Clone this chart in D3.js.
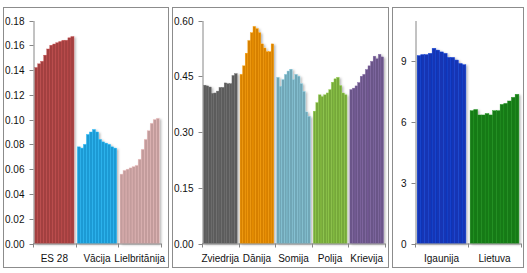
<!DOCTYPE html>
<html>
<head>
<meta charset="utf-8">
<script src="https://cdn.jsdelivr.net/npm/d3@7/dist/d3.min.js"></script>
<style>
  body{margin:0;background:#fff;}
  svg text{font-family:"Liberation Sans",Arial,sans-serif;font-size:10px;fill:#111;}
</style>
</head>
<body>
<svg id="chart" width="527" height="273"></svg>
<script>
// vertības katram gadam (13 gadi) katrai valstij
var es28 = [0.142,0.145,0.147,0.152,0.157,0.160,0.161,0.162,0.163,0.164,0.164,0.166,0.167];
var vacija = [0.078,0.077,0.080,0.088,0.090,0.092,0.090,0.084,0.082,0.081,0.080,0.078,0.077];
var lielbritanija = [0.056,0.059,0.060,0.061,0.062,0.063,0.068,0.076,0.084,0.091,0.097,0.100,0.101];

var zviedrija = [0.426,0.424,0.421,0.404,0.405,0.410,0.420,0.420,0.432,0.430,0.430,0.452,0.457];
var danija = [0.455,0.478,0.512,0.546,0.567,0.584,0.578,0.567,0.537,0.526,0.516,0.516,0.537];
var somija = [0.447,0.423,0.441,0.455,0.464,0.469,0.441,0.455,0.450,0.430,0.409,0.354,0.342];
var polija = [0.356,0.379,0.400,0.395,0.400,0.405,0.414,0.434,0.443,0.447,0.425,0.405,0.400];
var krievija = [0.414,0.418,0.424,0.433,0.450,0.455,0.468,0.478,0.490,0.504,0.497,0.509,0.502];

var igaunija = [9.27,9.32,9.32,9.38,9.63,9.54,9.45,9.38,9.18,9.18,9.05,8.88,8.82];
var lietuva = [6.55,6.61,6.34,6.34,6.41,6.34,6.55,6.55,6.86,6.91,7.03,7.21,7.36];

var yTicks1 = [0,0.02,0.04,0.06,0.08,0.10,0.12,0.14,0.16,0.18];
var yTicks2 = [0,0.15,0.30,0.45,0.60];
var yTicks3 = [0,3,6,9];

/* paneļu konfigurācija (trešajā panelī ass turpinās līdz 11) */
var paneli = [
  {box:[3.5,7.5,165,260], x0:33, x1:161, yMax:0.18, ticks:yTicks1, fmt:d3.format(".2f"),
   grupas:[{n:"ES 28",v:es28,c:"#a23f3f"},{n:"Vācija",v:vacija,c:"#1b9ad4"},{n:"Lielbritānija",v:lielbritanija,c:"#c39c9c"}]},
  {box:[172.5,7.5,216,260], x0:202, x1:385, yMax:0.60, ticks:yTicks2, fmt:d3.format(".2f"),
   grupas:[{n:"Zviedrija",v:zviedrija,c:"#5c5c5c"},{n:"Dānija",v:danija,c:"#d78100"},{n:"Somija",v:somija,c:"#70a6b6"},
           {n:"Polija",v:polija,c:"#76a83a"},{n:"Krievija",v:krievija,c:"#6a5488"}]},
  {box:[392.5,7.5,131,260], x0:415, x1:521, yMax:11, ticks:yTicks3, fmt:d3.format("d"),
   grupas:[{n:"Igaunija",v:igaunija,c:"#1236b4"},{n:"Lietuva",v:lietuva,c:"#167a16"}]}
];

var yTop = 20.5, yBot = 243.5;
var svg = d3.select("#chart");

var defs = svg.append("defs");
defs.append("filter").attr("id","ena").attr("x","-10%").attr("y","-10%").attr("width","130%").attr("height","130%")
  .append("feDropShadow").attr("dx",1.5).attr("dy",1).attr("stdDeviation",1)
  .attr("flood-color","#000").attr("flood-opacity",0.3);

paneli.forEach(function(p){
  var g = svg.append("g");
  g.append("rect").attr("x",p.box[0]).attr("y",p.box[1]).attr("width",p.box[2]).attr("height",p.box[3])
    .attr("fill","#fff").attr("stroke","#8c8c8c");

  var y = d3.scaleLinear().domain([0,p.yMax]).range([yBot,yTop]);
  var x = d3.scaleBand().domain(p.grupas.map(d=>d.n)).range([p.x0,p.x1]).paddingInner(0.08).paddingOuter(0.04);
  var xi = d3.scaleBand().domain(d3.range(13)).range([0,x.bandwidth()]).padding(0);

  p.grupas.forEach(function(gr){
    var bg = g.append("g").attr("filter","url(#ena)");
    bg.selectAll("rect").data(gr.v).enter().append("rect")
      .attr("x",(d,i)=>x(gr.n)+xi(i))
      .attr("y",d=>y(d))
      .attr("width",xi.bandwidth())
      .attr("height",d=>yBot-y(d))
      .attr("fill",gr.c)
      .attr("stroke",d3.color(gr.c).brighter(0.6))
      .attr("stroke-width",0.4);
  });

  var yAx = d3.axisLeft(y).tickValues(p.ticks).tickFormat(p.fmt).tickSize(4).tickSizeOuter(0).tickPadding(5);
  var ya = g.append("g").attr("transform","translate("+(p.x0+0.5)+",0)").call(yAx);
  ya.select(".domain").attr("stroke","#868686");
  ya.selectAll(".tick line").attr("stroke","#868686");
  ya.selectAll(".tick text").attr("fill","#111");
  ya.selectAll(".tick").attr("transform",d=>"translate(0,"+(Math.round(y(d))+0.5)+")");

  // kategoriju ass
  var xa = g.append("g");
  xa.append("line").attr("x1",p.x0).attr("x2",p.x1).attr("y1",yBot+0.5).attr("y2",yBot+0.5).attr("stroke","#868686");
  var robezas = d3.range(p.grupas.length+1).map(i=>p.x0+(p.x1-p.x0)*i/p.grupas.length);
  xa.selectAll("line.t").data(robezas).enter().append("line").attr("class","t")
    .attr("x1",d=>Math.round(d)+0.5).attr("x2",d=>Math.round(d)+0.5).attr("y1",yBot).attr("y2",yBot+4).attr("stroke","#868686");
  xa.selectAll("text").data(p.grupas).enter().append("text")
    .attr("x",d=>x(d.n)+x.bandwidth()/2).attr("y",262).attr("text-anchor","middle").text(d=>d.n);
});
</script>
</body>
</html>
